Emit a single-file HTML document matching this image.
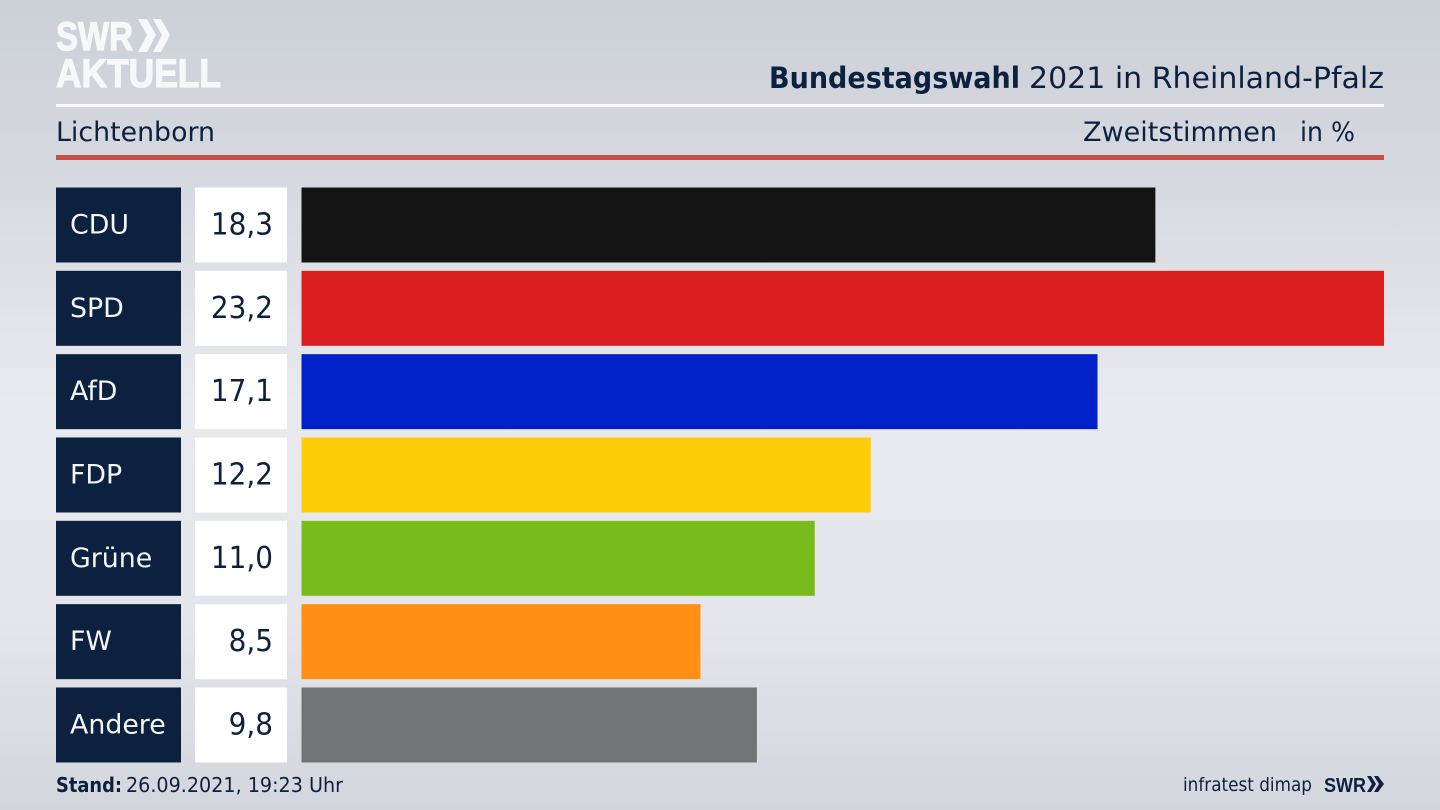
<!DOCTYPE html>
<html lang="de">
<head>
<meta charset="utf-8">
<title>Bundestagswahl 2021 in Rheinland-Pfalz – Lichtenborn</title>
<style>
html,body{margin:0;padding:0;width:1440px;height:810px;overflow:hidden}
body{background:linear-gradient(180deg,#ccd0d7 0%,#d6d9df 22%,#e9eaef 50%,#e3e5ea 78%,#d3d6dc 100%)}
svg{display:block;position:absolute;left:0;top:0}
text{font-family:"DejaVu Sans",sans-serif;fill:#0c2040}
.logo{font-family:"Liberation Sans",sans-serif;fill:#f7f8f9;stroke:#f7f8f9;stroke-width:1.2px}
</style>
</head>
<body>
<svg id="chart" width="1440" height="810" viewBox="0 0 1440 810" xmlns="http://www.w3.org/2000/svg">
  <g>
    <text class="logo" x="56" y="50" font-size="40" font-weight="700" textLength="77" lengthAdjust="spacingAndGlyphs">SWR</text>
    <polygon points="138,19 147,19 156,35 147,52 138,52 147,35" fill="#f7f8f9"/>
    <polygon points="153,19 161,19 170,35 161,52 153,52 162,35" fill="#f7f8f9"/>
    <text class="logo" x="56" y="87" font-size="40" font-weight="700" textLength="165" lengthAdjust="spacingAndGlyphs">AKTUELL</text>
  </g>
  <g>
    <text x="769" y="88" font-size="29.5" font-weight="700" textLength="251" lengthAdjust="spacingAndGlyphs">Bundestagswahl</text>
    <text x="1029" y="88" font-size="29.5" textLength="355" lengthAdjust="spacingAndGlyphs">2021 in Rheinland-Pfalz</text>
  </g>
  <rect x="56" y="104" width="1328" height="3" fill="#f8f9fa"/>
  <text x="56" y="141" font-size="26.7" textLength="159" lengthAdjust="spacingAndGlyphs">Lichtenborn</text>
  <text x="1083" y="141" font-size="26.7" textLength="194" lengthAdjust="spacingAndGlyphs">Zweitstimmen</text>
  <text x="1300" y="141" font-size="26.7" textLength="55" lengthAdjust="spacingAndGlyphs">in %</text>
  <rect x="56" y="155" width="1328" height="5" fill="#c9503f"/>
  <g id="rows"></g>
  <text x="56" y="792" font-size="20" textLength="66" lengthAdjust="spacingAndGlyphs" font-weight="700">Stand:</text>
  <text x="126" y="792" font-size="20" textLength="217" lengthAdjust="spacingAndGlyphs">26.09.2021, 19:23 Uhr</text>
  <text x="1183" y="791" font-size="19" textLength="129" lengthAdjust="spacingAndGlyphs">infratest dimap</text>
  <g>
    <text x="1324" y="792" font-size="20" font-weight="700" textLength="42" lengthAdjust="spacingAndGlyphs" style="font-family:'Liberation Sans',sans-serif">SWR</text>
    <polygon points="1367,776 1371,776 1376,784 1371,792 1367,792 1372,784" fill="#0c2040"/>
    <polygon points="1374,776 1378,776 1384,784 1378,792 1374,792 1379,784" fill="#0c2040"/>
  </g>
</svg>
<script>
const categories = ["CDU", "SPD", "AfD", "FDP", "Grüne", "FW", "Andere"];
const seriesValues = [18.3, 23.2, 17.06, 12.2, 11.0, 8.55, 9.76];
const valueLabels = ["18,3", "23,2", "17,1", "12,2", "11,0", "8,5", "9,8"];
const barColors = ["#141414", "#d9201e", "#0021c8", "#ffcc08", "#78bc1b", "#ff9015", "#727375"];

const NS = "http://www.w3.org/2000/svg";
const rows = document.getElementById("rows");
const domainMax = 23.2;
const barLeft = 301.5;
const barRight = 1384;
const firstTop = 187.5;
const rowStep = 83.33;
const rowHeight = 75;

function xScale(v) {
  return (v / domainMax) * (barRight - barLeft);
}
function yScale(i) {
  return firstTop + i * rowStep;
}
function make(tag, attrs, text) {
  const el = document.createElementNS(NS, tag);
  Object.keys(attrs).forEach(function (k) { el.setAttribute(k, attrs[k]); });
  if (text !== undefined) el.textContent = text;
  rows.appendChild(el);
  return el;
}

categories.forEach(function (cat, i) {
  const y = yScale(i);
  const slug = cat.toLowerCase().replace("ü", "ue");

  const box = make("rect", { x: 56, y: y, width: 125, height: rowHeight, fill: "#0c2040" });
  
  

  const name = make("text", { x: 70, y: y + 46, "font-size": 26.8, style: "fill:#f5f6f8" }, cat);
  
  

  const valueBox = make("rect", { x: 195, y: y, width: 92, height: rowHeight, fill: "#ffffff" });
  
  

  const val = make("text", { "font-size": 30, "text-anchor": "end", transform: "translate(273," + (y + 47) + ") scale(0.93,1)" }, valueLabels[i]);
  
  

  const bar = make("rect", { x: barLeft, y: y, width: xScale(seriesValues[i]), height: rowHeight, fill: barColors[i] });
  
  
});
</script>
</body>
</html>
